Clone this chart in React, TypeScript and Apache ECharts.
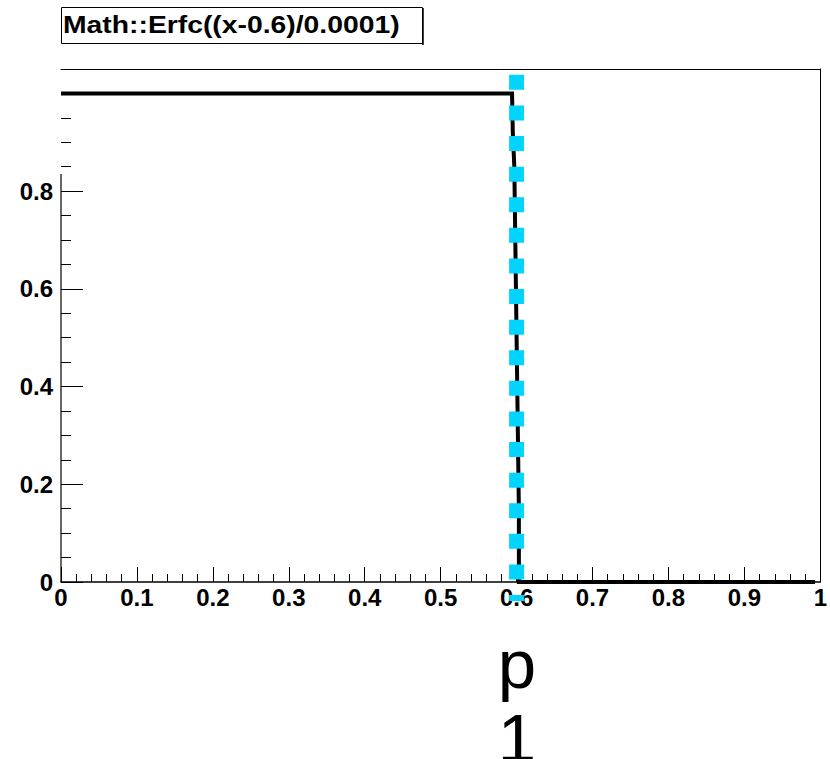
import React, { useEffect, useRef } from "react";
import * as echarts from "echarts";

// ---- data ----
const titleText = "Math::Erfc((x-0.6)/0.0001)";
const curveX = [0, 0.594, 0.595, 0.597, 0.6, 0.603, 0.603, 0.993];
const curveY = [1, 1, 0.92, 0.85, 0.5, 0.15, 0, 0];
const markerX = [0.6, 0.6];
const markerY = [1.038, -0.039];
const axisStubX = [0, 0];
const axisStubY = [0, 0.835];
const axisTitleLines = ["p", "1"];
const xMin = 0;
const xMax = 1;
const yMin = 0;
const yMax = 1.05;

const FONT = '"Liberation Sans", Arial, Helvetica, sans-serif';

function fmt(v: number): string {
  return String(Math.round(v * 10) / 10);
}

export default function App() {
  const ref = useRef<HTMLDivElement>(null);

  useEffect(() => {
    if (!ref.current) return;
    const chart = echarts.init(ref.current, null, { renderer: "svg" });
    const curve = curveX.map((x, i) => [x, curveY[i]]);
    const marker = markerX.map((x, i) => [x, markerY[i]]);
    const stub = axisStubX.map((x, i) => [x, axisStubY[i]]);

    chart.setOption({
      animation: false,
      backgroundColor: "#ffffff",
      grid: { left: 61, right: 8, top: 69, bottom: 177, containLabel: false },
      xAxis: [
        {
          type: "value",
          min: xMin,
          max: xMax,
          interval: 0.1,
          position: "bottom",
          axisLine: { show: true, onZero: false, lineStyle: { color: "#000", width: 1.5 } },
          axisTick: { show: true, inside: true, length: 15, lineStyle: { color: "#000", width: 1 } },
          minorTick: { show: true, splitNumber: 5, length: 8, lineStyle: { color: "#000", width: 1 } },
          splitLine: { show: false },
          axisLabel: {
            show: true,
            margin: 3,
            fontSize: 24,
            fontWeight: "bold",
            fontFamily: FONT,
            color: "#000",
            showMinLabel: true,
            showMaxLabel: true,
            hideOverlap: false,
            formatter: (v: number) => fmt(v),
          },
        },
        {
          type: "value",
          min: xMin,
          max: xMax,
          position: "top",
          axisLine: { show: true, onZero: false, lineStyle: { color: "#000", width: 1 } },
          axisTick: { show: false },
          axisLabel: { show: false },
          splitLine: { show: false },
        },
      ],
      yAxis: [
        {
          type: "value",
          min: yMin,
          max: yMax,
          interval: 0.05,
          position: "left",
          axisLine: { show: false },
          axisTick: { show: true, inside: true, length: 10, lineStyle: { color: "#000", width: 1 } },
          axisLabel: { show: false },
          splitLine: { show: false },
        },
        {
          type: "value",
          min: yMin,
          max: yMax,
          interval: 0.2,
          position: "left",
          axisLine: { show: false },
          axisTick: { show: true, inside: true, length: 22, lineStyle: { color: "#000", width: 1 } },
          splitLine: { show: false },
          axisLabel: {
            show: true,
            margin: 8,
            fontSize: 24,
            fontWeight: "bold",
            fontFamily: FONT,
            color: "#000",
            showMinLabel: true,
            showMaxLabel: true,
            formatter: (v: number) => (v > 0.85 ? "" : fmt(v)),
          },
        },
        {
          type: "value",
          min: yMin,
          max: yMax,
          position: "right",
          axisLine: { show: true, onZero: false, lineStyle: { color: "#000", width: 1 } },
          axisTick: { show: false },
          axisLabel: { show: false },
          splitLine: { show: false },
        },
      ],
      series: [
        {
          type: "line",
          name: "axisStub",
          data: stub,
          xAxisIndex: 0,
          yAxisIndex: 0,
          symbol: "none",
          silent: true,
          clip: false,
          lineStyle: { color: "#000", width: 1.2 },
          z: 1,
        },
        {
          type: "line",
          name: "erfc",
          data: curve,
          xAxisIndex: 0,
          yAxisIndex: 0,
          symbol: "none",
          silent: true,
          clip: false,
          lineStyle: { color: "#000", width: 4, join: "miter", cap: "butt" },
          z: 2,
        },
        {
          type: "line",
          name: "marker",
          data: marker,
          xAxisIndex: 0,
          yAxisIndex: 0,
          symbol: "none",
          silent: true,
          clip: false,
          lineStyle: { color: "#00d4ff", width: 15, type: [15, 15.6], cap: "butt" },
          z: 3,
        },
      ],
      graphic: [
        {
          type: "rect",
          shape: { x: 61.5, y: 7.5, width: 361, height: 36 },
          style: { fill: "#fff", stroke: "#000", lineWidth: 1 },
          z: 10,
        },
        {
          type: "line",
          shape: { x1: 423, y1: 8, x2: 423, y2: 45 },
          style: { stroke: "#000", lineWidth: 1.5 },
          z: 10,
        },
        {
          type: "text",
          x: 63,
          y: 25,
          scaleX: 1.18,
          z: 11,
          style: {
            text: titleText,
            fontSize: 24,
            fontWeight: "bold",
            fontFamily: FONT,
            fill: "#000",
            textAlign: "left",
            textVerticalAlign: "middle",
          },
        },
        {
          type: "text",
          x: 517,
          y: 664,
          style: {
            text: axisTitleLines[0],
            fontSize: 69,
            fontFamily: FONT,
            fill: "#000",
            textAlign: "center",
            textVerticalAlign: "middle",
          },
        },
        {
          type: "text",
          x: 517,
          y: 738,
          style: {
            text: axisTitleLines[1],
            fontSize: 69,
            fontFamily: FONT,
            fill: "#000",
            textAlign: "center",
            textVerticalAlign: "middle",
          },
        },
      ],
    });

    return () => {
      chart.dispose();
    };
  }, []);

  return (
    <div
      ref={ref}
      style={{ position: "fixed", left: 0, top: 0, width: 830, height: 759, background: "#fff" }}
    />
  );
}
